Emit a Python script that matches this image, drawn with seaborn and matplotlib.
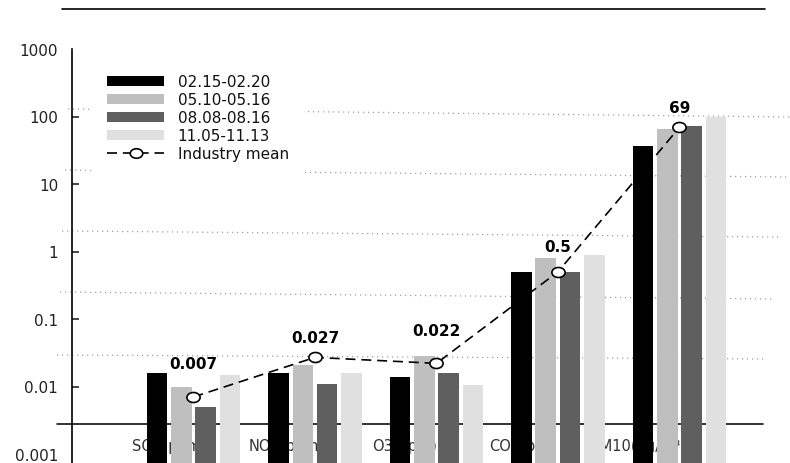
import numpy as np
import pandas as pd
import matplotlib
matplotlib.use("Agg")
import matplotlib.pyplot as plt
from matplotlib.lines import Line2D
from matplotlib.patches import Patch
from matplotlib.path import Path
import seaborn as sns

# ---- data -------------------------------------------------------------
pollutants = ["SO2(ppm)", "NO2(ppm)", "O3(ppm)", "CO(ppm)", "PM10(μg/m³)"]
periods = ["02.15-02.20", "05.10-05.16", "08.08-08.16", "11.05-11.13"]
v_feb = [0.0156, 0.0156, 0.0137, 0.50, 37]
v_may = [0.0098, 0.0207, 0.0285, 0.79, 65]
v_aug = [0.0049, 0.0108, 0.0156, 0.50, 73]
v_nov = [0.0147, 0.0156, 0.0107, 0.88, 97]
industry_mean = [0.007, 0.027, 0.022, 0.5, 69]
mean_labels = ["0.007", "0.027", "0.022", "0.5", "69"]
ytick_values = [0.001, 0.01, 0.1, 1, 10, 100, 1000]
ytick_labels = ["0.001", "0.01", "0.1", "1", "10", "100", "1000"]

colors = ["#000000", "#bfbfbf", "#5f5f5f", "#e0e0e0"]

df = pd.DataFrame({
    "pollutant": pollutants * 4,
    "period": np.repeat(periods, len(pollutants)),
    "value": v_feb + v_may + v_aug + v_nov,
})

# ---- figure -----------------------------------------------------------
sns.set_style("white")
plt.rcParams["font.family"] = ["DejaVu Sans"]

W, H = 790, 464
fig = plt.figure(figsize=(W / 100, H / 100), dpi=100)
AX_L, AX_R, AX_T, AX_B = 72, 790, 50, 464
ax = fig.add_axes([AX_L / W, 1 - AX_B / H, (AX_R - AX_L) / W, (AX_B - AX_T) / H])


def axpt(x, y):
    """pixel position -> axes fraction"""
    return (x - AX_L) / (AX_R - AX_L), (AX_B - y) / (AX_B - AX_T)


sns.barplot(data=df, x="pollutant", y="value", hue="period", order=pollutants,
            hue_order=periods, palette=colors, width=0.8, gap=0.15,
            legend=False, ax=ax, linewidth=0, saturation=1, errorbar=None)
for bar in ax.patches:
    bar.set_zorder(2)

ax.set_yscale("log")
ax.set_ylim(10 ** (-3 - 9 / 67.5), 1000)
ax.set_xlim(-1, 4.91)

# dotted guide lines
guides = [((68, 110), (790, 118)), ((65, 171), (790, 178)),
          ((62, 232), (780, 238)), ((60, 293), (775, 300)),
          ((57, 356), (767, 360))]
for (x0, y0), (x1, y1) in guides:
    p0, p1 = axpt(x0, y0), axpt(x1, y1)
    ax.plot([p0[0], p1[0]], [p0[1], p1[1]], transform=ax.transAxes,
            color="#a0a0a0", lw=0.9, ls=(0, (1, 3)), clip_on=False, zorder=0.5)

# baseline across the chart, sitting under the bars
b0, b1 = axpt(57, 425), axpt(763, 425)
ax.plot([b0[0], b1[0]], [b0[1], b1[1]], transform=ax.transAxes, color="#111111",
        lw=1.2, clip_on=False, zorder=0.6)

# category names along the bottom, under the bars
for i, name in enumerate(pollutants):
    ax.text(i * 0.967 - 0.2, axpt(0, 447)[1], name,
            transform=ax.get_xaxis_transform(), ha="center", va="center",
            fontsize=10.5, color="#333333", zorder=0.7)

# industry mean line
circ = Path.unit_circle()
ellipse = Path(circ.vertices * np.array([1.0, 0.76]), circ.codes)
xs = np.arange(len(pollutants))
ax.plot(xs, industry_mean, color="black", lw=1.2, dashes=(6, 3.5),
        marker=ellipse, markersize=9.5, markerfacecolor="white",
        markeredgecolor="black", markeredgewidth=1.2, zorder=4)

label_offsets = [24, 14, 24, 18, 14]
for x, v, lab, off in zip(xs, industry_mean, mean_labels, label_offsets):
    ax.annotate(lab, (x, v), xytext=(0, off), textcoords="offset points",
                ha="center", va="center", fontsize=11, fontweight="bold",
                color="black", zorder=5)

# axes styling
for side in ["top", "right", "bottom"]:
    ax.spines[side].set_visible(False)
ax.spines["left"].set_color("black")
ax.spines["left"].set_linewidth(1.2)
ax.set_xticks([])
ax.set_yticks(ytick_values)
ax.set_yticklabels(ytick_labels)
ax.yaxis.set_minor_locator(matplotlib.ticker.NullLocator())
ax.tick_params(axis="y", direction="in", length=5, width=1.2, pad=10,
               labelsize=11, labelcolor="#222222", left=True)
ticks = ax.yaxis.get_major_ticks()
ticks[0].tick1line.set_visible(False)
ticks[-1].tick1line.set_visible(False)
ax.set_xlabel("")
ax.set_ylabel("")

# legend
handles = [Patch(facecolor=c, edgecolor="none", label=p) for c, p in zip(colors, periods)]
handles.append(Line2D([], [], color="black", lw=1.2, dashes=(6, 3.5), marker=ellipse,
                      markersize=9, markerfacecolor="white", markeredgecolor="black",
                      markeredgewidth=1.2, label="Industry mean"))
leg = ax.legend(handles=handles, loc="upper left",
                bbox_to_anchor=(92 / W, 1 - 60 / H), bbox_transform=fig.transFigure,
                fontsize=11, handlelength=3.7, handleheight=0.65, handletextpad=0.9,
                labelspacing=0.2, borderpad=1.0, borderaxespad=0,
                frameon=True, fancybox=False)
leg.get_frame().set_facecolor("white")
leg.get_frame().set_edgecolor("none")
leg.get_frame().set_alpha(1)
leg.set_zorder(1)
for t in leg.get_texts():
    t.set_color("#111111")

# rule across the top
fig.add_artist(Line2D([62 / W, 765 / W], [1 - 10 / H, 1 - 10 / H], color="black", lw=1.2))

fig.savefig("out.png", dpi=100)
